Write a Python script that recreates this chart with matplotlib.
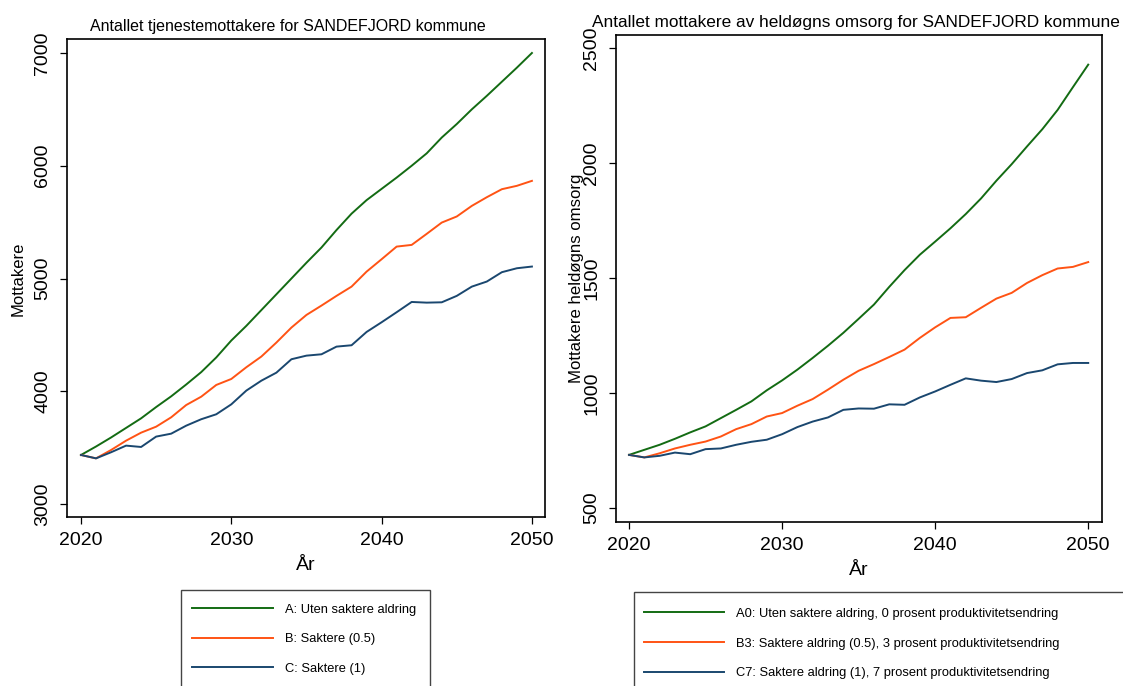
import matplotlib
matplotlib.use("Agg")
import matplotlib.pyplot as plt
from matplotlib.patches import Rectangle

plt.rcParams['font.family'] = ['Liberation Sans', 'DejaVu Sans']

years = list(range(2020, 2051))

# Left: tjenestemottakere
left_A = [3435, 3510, 3590, 3675, 3760, 3860, 3955, 4060, 4170, 4300, 4450, 4580, 4720, 4860,
          5000, 5140, 5275, 5430, 5575, 5695, 5795, 5895, 6000, 6110, 6250, 6370, 6500, 6620,
          6745, 6870, 7000]
left_B = [3435, 3405, 3479, 3562, 3633, 3686, 3769, 3878, 3952, 4056, 4109, 4213, 4308, 4432,
          4565, 4677, 4760, 4846, 4928, 5061, 5171, 5283, 5298, 5396, 5496, 5550, 5644, 5721,
          5792, 5822, 5866]
left_C = [3435, 3405, 3459, 3518, 3506, 3598, 3624, 3695, 3752, 3796, 3884, 4006, 4094, 4165,
          4284, 4316, 4328, 4396, 4408, 4526, 4612, 4701, 4792, 4786, 4789, 4846, 4928, 4973,
          5056, 5091, 5106]

# Right: heldøgns omsorg
right_A = [731, 753, 775, 801, 829, 855, 891, 927, 964, 1012, 1055, 1102, 1153, 1206, 1262,
           1323, 1385, 1462, 1535, 1602, 1659, 1717, 1779, 1847, 1924, 1996, 2073, 2148, 2232,
           2331, 2429]
right_B = [731, 720, 738, 759, 775, 789, 811, 843, 865, 898, 913, 945, 974, 1015, 1058, 1097,
           1126, 1157, 1189, 1240, 1286, 1327, 1330, 1371, 1411, 1436, 1479, 1513, 1542, 1549,
           1570]
right_C = [731, 720, 727, 741, 734, 756, 759, 775, 788, 797, 821, 852, 876, 894, 927, 933, 932,
           951, 949, 981, 1007, 1036, 1064, 1054, 1048, 1061, 1087, 1099, 1125, 1131, 1131]

left_labels = ["A: Uten saktere aldring", "B: Saktere (0.5)", "C: Saktere (1)"]
right_labels = ["A0: Uten saktere aldring, 0 prosent produktivitetsendring",
                "B3: Saktere aldring (0.5), 3 prosent produktivitetsendring",
                "C7: Saktere aldring (1), 7 prosent produktivitetsendring"]
xticks = [2020, 2030, 2040, 2050]
left_yticks = [3000, 4000, 5000, 6000, 7000]
right_yticks = [500, 1000, 1500, 2000, 2500]

colors = ["#136b13", "#ff5314", "#1a476f"]

W, H = 1123, 686
fig = plt.figure(figsize=(W / 100, H / 100), dpi=100)

def axrect(x0, y0, x1, y1):
    return [x0 / W, 1 - y1 / H, (x1 - x0) / W, (y1 - y0) / H]

axL = fig.add_axes(axrect(67, 39, 545, 517))
axR = fig.add_axes(axrect(616, 35, 1102, 522))

def style(ax, yticks, ylim, xlim):
    ax.set_xlim(*xlim)
    ax.set_ylim(*ylim)
    ax.set_xticks(xticks)
    ax.set_yticks(yticks)
    ax.tick_params(axis='x', direction='out', length=5, width=0.9, labelsize=14, pad=5.5)
    ax.tick_params(axis='y', direction='out', length=5, width=0.9, labelsize=14, pad=6.5)
    for lab in ax.get_yticklabels():
        lab.set_rotation(90)
        lab.set_va('center')
    for s in ax.spines.values():
        s.set_linewidth(1.2)

linesL = []
for vals, c in zip([left_A, left_B, left_C], colors):
    ln, = axL.plot(years, vals, color=c, lw=1.4)
    linesL.append(ln)
linesR = []
for vals, c in zip([right_A, right_B, right_C], colors):
    ln, = axR.plot(years, vals, color=c, lw=1.4)
    linesR.append(ln)

style(axL, left_yticks, (2885, 7124), (2019.07, 2050.87))
style(axR, right_yticks, (439, 2558), (2019.15, 2050.9))

axL.set_title("Antallet tjenestemottakere for SANDEFJORD kommune", fontsize=11.5, pad=6, x=0.462)
axR.set_title("Antallet mottakere av heldøgns omsorg for SANDEFJORD kommune", fontsize=12.4, pad=6,
              x=0.494)
axL.set_xlabel("År", fontsize=14, labelpad=6)
axR.set_xlabel("År", fontsize=14, labelpad=6)
fig.text(18 / W, 1 - 279 / H, "Mottakere", rotation=90, fontsize=12, ha='center', va='center')
fig.text(577 / W, 1 - 278 / H, "Mottakere heldøgns omsorg", rotation=90, fontsize=12.1,
         ha='center', va='center')

# Legends
legL = fig.legend(linesL, left_labels, loc='upper left', bbox_to_anchor=(177 / W, 1 - 588 / H),
                  frameon=False, fontsize=9.3, handlelength=6.2, handletextpad=0.93,
                  labelspacing=1.37, borderaxespad=0, borderpad=1.2)
fig.patches.append(Rectangle((181 / W, -0.01), (430 - 181) / W, (686 - 590) / H + 0.01,
                             transform=fig.transFigure, fill=False, edgecolor='#444444', lw=1.0))
legR = fig.legend(linesR, right_labels, loc='upper left', bbox_to_anchor=(627 / W, 1 - 591 / H),
                  frameon=False, fontsize=9.3, handlelength=6.2, handletextpad=0.93,
                  labelspacing=1.37, borderaxespad=0, borderpad=1.3)
fig.patches.append(Rectangle((634 / W, -0.01), 0.5, (686 - 592) / H + 0.01,
                             transform=fig.transFigure, fill=False, edgecolor='#444444', lw=1.0))

fig.savefig("out.png", dpi=100)
